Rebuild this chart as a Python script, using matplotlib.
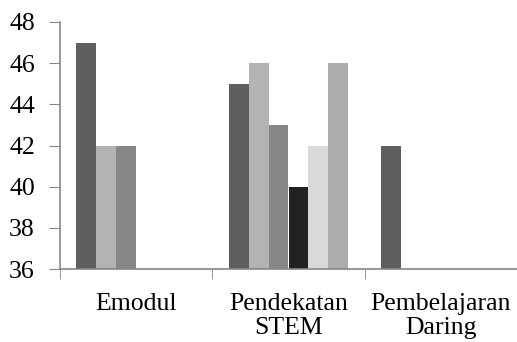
import numpy as np
import matplotlib
matplotlib.use("Agg")
import matplotlib.pyplot as plt

# categories and the six series (missing bars as nan)
categories = ["Emodul", "Pendekatan\nSTEM", "Pembelajaran\nDaring"]
s1 = [47, 45, 42]
s2 = [42, 46, np.nan]
s3 = [42, 43, np.nan]
s4 = [np.nan, 40, np.nan]
s5 = [np.nan, 42, np.nan]
s6 = [np.nan, 46, np.nan]
series = [s1, s2, s3, s4, s5, s6]
colors = ["#5f5f5f", "#b3b3b3", "#878787", "#222222", "#d9d9d9", "#acacac"]

plt.rcParams["font.family"] = ["Liberation Serif", "DejaVu Serif"]

fig = plt.figure(figsize=(5.17, 3.42), dpi=100)
ax = fig.add_axes([60 / 517, 1 - 269 / 342, 457 / 517, 247 / 342])

x = np.arange(len(categories))
w = 0.131
for i, vals in enumerate(series):
    vals = np.array(vals, dtype=float)
    ax.bar(x + (i - 2.5) * w, vals - 36, width=w, bottom=36, color=colors[i], linewidth=0)

ax.set_ylim(36, 48)
ax.set_xlim(-0.5, 2.5)
ax.set_yticks(range(36, 49, 2))
ax.tick_params(axis="y", labelsize=18.5, length=8, color="#868686", pad=10)

# category labels at centres, tick marks at boundaries
ax.set_xticks(x)
ax.set_xticklabels(categories, linespacing=1.15)
ax.tick_params(axis="x", which="major", length=0, labelsize=18.5, pad=17)
ax.set_xticks([-0.5, 0.5, 1.5, 2.5], minor=True)
ax.tick_params(axis="x", which="minor", length=7, color="#868686")

for s in ["top", "right"]:
    ax.spines[s].set_visible(False)
for s in ["left", "bottom"]:
    ax.spines[s].set_color("#868686")
    ax.spines[s].set_linewidth(1.2)

fig.savefig("out.png", dpi=100)
